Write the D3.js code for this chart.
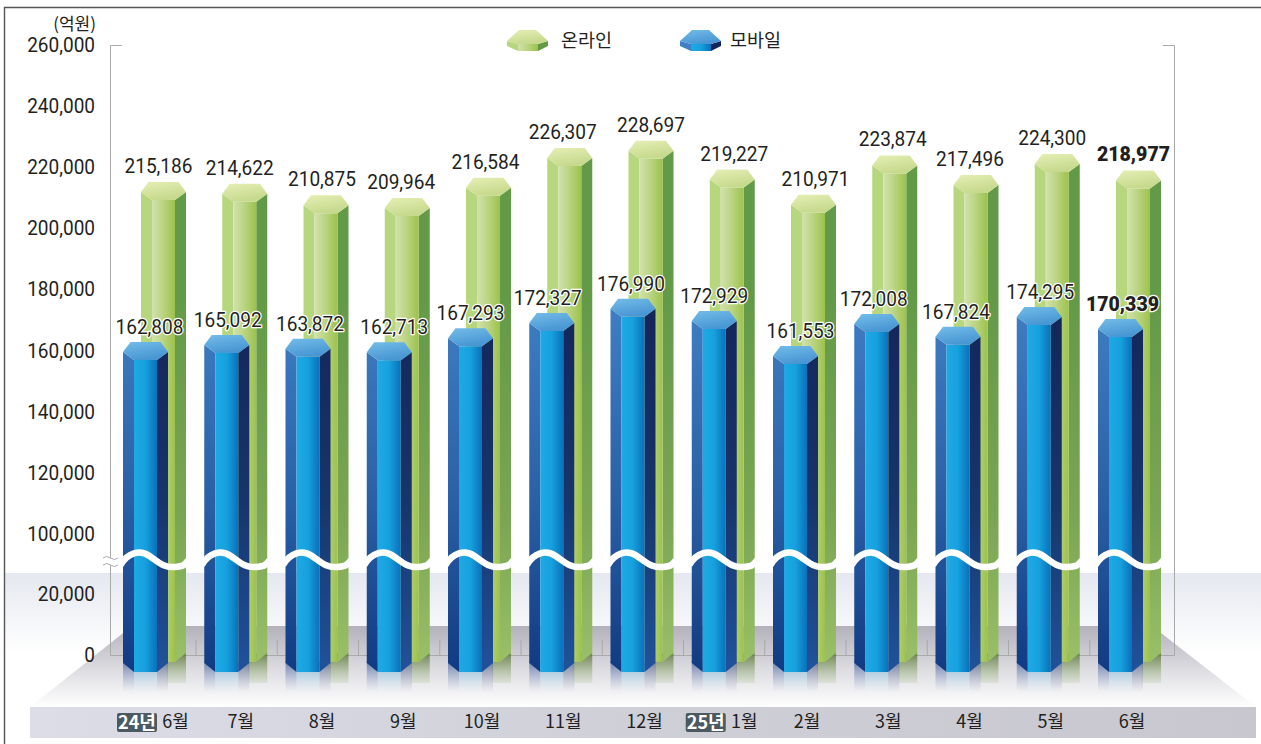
<!DOCTYPE html>
<html>
<head>
<meta charset="utf-8">
<title>온라인 모바일 거래액</title>
<style>
    html, body { margin: 0; padding: 0; background: #fff; }
    svg { display: block; }
    text { fill: #231f20; }
</style>
</head>
<body>
<svg width="1261" height="744"></svg>
<script src="https://d3js.org/d3.v7.min.js"></script>
<script>
    const months = ["6월", "7월", "8월", "9월", "10월", "11월", "12월", "1월", "2월", "3월", "4월", "5월", "6월"]
    const yearTags = ["24년", "", "", "", "", "", "", "25년", "", "", "", "", ""]
    const online = [215186, 214622, 210875, 209964, 216584, 226307, 228697, 219227, 210971, 223874, 217496, 224300, 218977]
    const mobile = [162808, 165092, 163872, 162713, 167293, 172327, 176990, 172929, 161553, 172008, 167824, 174295, 170339]
    const yTicks = [0, 20000, 100000, 120000, 140000, 160000, 180000, 200000, 220000, 240000, 260000]

    // hand placed label nudges, the source nudges labels so they don't collide
    const onlineNudge = [-5, -5, -4, -6, -3, -7, 0, 2, 2, -2, -6, -5, -5]
    const mobileNudge = [4, 1, 2, 5, 0, -4, -2, 0, 5, -3, -2, 1, 2]

    const numFont = "Roboto, sans-serif"
    const krFont = "'Noto Sans CJK KR', sans-serif"

    const svg = d3.select("svg")
    const defs = svg.append("defs")

    const gradient = (id, stops, opts = {}) => {
        const g = defs.append("linearGradient").attr("id", id)
        Object.entries(opts).forEach(([k, v]) => g.attr(k, v))
        stops.forEach(s => g.append("stop")
            .attr("offset", s[0]).attr("stop-color", s[1]).attr("stop-opacity", s[2] === undefined ? 1 : s[2]))
    }
    const vert = {x1: 0, y1: 0, x2: 0, y2: 1}
    const tall = {gradientUnits: "userSpaceOnUse", x1: 0, x2: 0, y1: 300, y2: 672}
    const refl = {gradientUnits: "userSpaceOnUse", x1: 0, x2: 0, y1: 655, y2: 692}

    gradient("bgFade", [[0, "#e5e8f0"], [1, "#ffffff"]], vert)
    gradient("floor", [[0, "#b3b1bb"], [0.55, "#dedde2"], [1, "#ffffff"]], vert)
    gradient("band", [[0, "#dcdde7"], [0.5, "#cfcfd8"], [1, "#c8c7cf"]])

    gradient("blueLeft", [[0, "#3f7fc5"], [0.55, "#2a5fa5"], [1, "#113a82"]], tall)
    gradient("blueFront", [[0, "#1fa9e4"], [0.5, "#16a0de"], [1, "#0a70b9"]])
    gradient("blueRight", [[0, "#13255a"], [0.55, "#17356c"], [1, "#20529b"]], tall)
    gradient("blueCap", [[0, "#74bde8"], [1, "#4896d4"]], {x1: 0, y1: 0, x2: 0.4, y2: 1})

    gradient("greenLeft", [[0, "#b7d77e"], [1, "#a6cf6e"]], tall)
    gradient("greenFront", [[0, "#d2e2ad"], [0.5, "#b9d37f"], [1, "#9cc24c"]])
    gradient("greenRight", [[0, "#639a48"], [0.6, "#7ba653"], [1, "#9cc169"]], tall)
    gradient("greenCap", [[0, "#e6efb6"], [1, "#c6d98c"]], {x1: 0, y1: 0, x2: 0.4, y2: 1})

    gradient("reflBlueL", [[0, "#26488f", 0.8], [1, "#8a9ccc", 0]], refl)
    gradient("reflBlueF", [[0, "#3f9ed8", 0.75], [1, "#a8d8f0", 0]], refl)
    gradient("reflBlueR", [[0, "#3a4c74", 0.85], [1, "#8c96b8", 0]], refl)
    gradient("reflGreen", [[0, "#5f7a3c", 0.8], [1, "#b8d49a", 0]], refl)

    const x = d3.scalePoint().domain(d3.range(months.length)).range([145.5, 1120.5])
    const y = d3.scaleLinear().domain([0, 20000, 100000, 260000]).range([655, 594, 534, 45])
    const greenShift = 18

    // the source numerals are a narrow DIN, squeeze Roboto to about that width
    const squeeze = (sel, k) => sel
        .attr("lengthAdjust", "spacingAndGlyphs")
        .each(function () { this.setAttribute("textLength", this.getComputedTextLength() * k) })

    // page frame and backdrop
    svg.append("rect").attr("x", 4).attr("y", 573).attr("width", 1257).attr("height", 80).attr("fill", "url(#bgFade)")
    svg.append("path").attr("d", "M4.5,744V7.5H1261").attr("fill", "none").attr("stroke", "#555").attr("stroke-width", 1.4)

    // floor and category band
    svg.append("polygon").attr("points", "132,626 1152,626 1256,707 30,707").attr("fill", "url(#floor)")
    svg.append("rect").attr("x", 30).attr("y", 707).attr("width", 1226).attr("height", 31).attr("fill", "url(#band)")

    // axis box
    const frame = svg.append("g").attr("fill", "none").attr("stroke", "#a9a9a9")
    frame.append("path").attr("d", `M122,${y(260000) + .5}H110.5V${y(0) + .5}H1174.5V${y(260000) + .5}H1163`)
    frame.selectAll("line").data(d3.range(months.length - 1)).join("line")
        .attr("x1", i => x(i) + 50.5).attr("x2", i => x(i) + 50.5)
        .attr("y1", y(0) - 15).attr("y2", y(0))

    const yAxis = svg.append("g")
        .attr("transform", "translate(110,0)")
        .call(d3.axisLeft(y).tickValues(yTicks).tickFormat(d3.format(",")).tickSize(0).tickPadding(15))
    yAxis.select(".domain").remove()
    yAxis.selectAll("text").attr("font-family", numFont).attr("font-size", 20).style("fill", "#231f20")
        .call(squeeze, 0.95)

    // axis break mark
    svg.append("path").attr("d", "M100,561.5H121").attr("stroke", "#fff").attr("stroke-width", 7)
    svg.selectAll(".tilde").data([558, 565]).join("path").attr("class", "tilde")
        .attr("d", d => `M103,${d}q3.5,-3 7.5,0t7.5,0`).attr("fill", "none").attr("stroke", "#a9a9a9")

    const pts = a => a.map(p => p.join(",")).join(" ")

    // one hexagonal column; dx is the column centre, top the pixel of its value, foot the pixel of its side bottom
    const column = (sel, dx, top, foot, name) => {
        const l = dx - 22.5, fl = dx - 11.5, fr = dx + 11.5, r = dx + 22.5
        const side = top + 10, front = top + 18
        sel.append("polygon").attr("points", pts([[l, side], [fl, front], [fl, foot + 9], [l, foot]])).attr("fill", `url(#${name}Left)`)
        sel.append("polygon").attr("points", pts([[r, side], [fr, front], [fr, foot + 9], [r, foot]])).attr("fill", `url(#${name}Right)`)
        sel.append("polygon").attr("points", pts([[fl, front], [fr, front], [fr, foot + 9], [fl, foot + 9]])).attr("fill", `url(#${name}Front)`)
        sel.append("polygon").attr("points", pts([[l, side], [dx - 15, top], [dx + 15, top], [r, side], [fr, front], [fl, front]])).attr("fill", `url(#${name}Cap)`)
    }

    // reflections on the floor
    const reflections = svg.append("g")
    months.forEach((m, i) => {
        const cx = x(i), gx = cx + greenShift
        reflections.append("rect").attr("x", gx + 4).attr("y", y(0) - 2).attr("width", 18.5).attr("height", 30).attr("fill", "url(#reflGreen)")
        reflections.append("rect").attr("x", cx - 22.5).attr("y", y(0) + 6).attr("width", 11).attr("height", 32).attr("fill", "url(#reflBlueL)")
        reflections.append("rect").attr("x", cx - 11.5).attr("y", y(0) + 6).attr("width", 23).attr("height", 32).attr("fill", "url(#reflBlueF)")
        reflections.append("rect").attr("x", cx + 11.5).attr("y", y(0) + 6).attr("width", 11).attr("height", 32).attr("fill", "url(#reflBlueR)")
    })

    const valueLabels = (sel, values, nudge, shift, lift) => sel.selectAll("text").data(values).join("text")
        .attr("x", (d, i) => x(i) + shift + nudge[i])
        .attr("y", d => y(d) - lift)
        .attr("text-anchor", "middle")
        .attr("font-family", numFont)
        .attr("font-size", (d, i) => i === values.length - 1 ? 21 : 20.5)
        .attr("font-weight", (d, i) => i === values.length - 1 ? 900 : 400)
        .text(d3.format(","))
        .call(squeeze, 0.93)

    const greens = svg.append("g")
    online.forEach((v, i) => column(greens.append("g"), x(i) + greenShift, y(v), y(0) - 2, "green"))
    valueLabels(svg.append("g"), online, onlineNudge, greenShift, 9)

    const blues = svg.append("g")
    mobile.forEach((v, i) => column(blues.append("g"), x(i), y(v), y(0) + 8, "blue"))

    // wavy white break through each pair of columns
    svg.append("g").selectAll("path").data(months).join("path")
        .attr("d", (d, i) => {
            const c = x(i)
            return `M${c - 25},565C${c - 18},553 ${c - 6},549 ${c + 4},556S${c + 19},568 ${c + 29},567S${c + 39},565 ${c + 43},560`
        })
        .attr("fill", "none").attr("stroke", "#fff").attr("stroke-width", 6.5)

    valueLabels(svg.append("g"), mobile, mobileNudge, 0, 8)
        .attr("stroke", "#fff").attr("stroke-width", 2.5).attr("stroke-linejoin", "round").attr("paint-order", "stroke")

    // category labels
    const cats = svg.append("g").attr("font-family", krFont).attr("font-size", 18)
    cats.selectAll(".month").data(months).join("text").attr("class", "month")
        .attr("x", (d, i) => x(i) + (yearTags[i] ? 30 : i < 4 ? 14 : 11.5))
        .attr("y", 728)
        .attr("text-anchor", "middle")
        .text(d => d)
    const tagged = months.map((m, i) => i).filter(i => yearTags[i])
    cats.selectAll(".tag").data(tagged).join("rect").attr("class", "tag")
        .attr("x", i => x(i) - 28.5).attr("y", 713).attr("width", 40).attr("height", 19).attr("rx", 2).attr("fill", "#4a5a60")
    cats.selectAll(".tagText").data(tagged).join("text").attr("class", "tagText")
        .attr("x", i => x(i) - 8.5).attr("y", 728.5).attr("text-anchor", "middle")
        .attr("font-weight", 700).style("fill", "#fff")
        .text(i => yearTags[i])

    // legend
    const legendItem = (lx, name, label, tx) => {
        const g = svg.append("g")
        g.append("polygon").attr("points", pts([[lx, 41], [lx + 11, 44], [lx + 11, 51], [lx, 46]])).attr("fill", `url(#${name}Left)`)
        g.append("polygon").attr("points", pts([[lx + 41, 41], [lx + 31, 44], [lx + 31, 51], [lx + 41, 46]])).attr("fill", `url(#${name}Right)`)
        g.append("polygon").attr("points", pts([[lx + 11, 44], [lx + 31, 44], [lx + 31, 51], [lx + 11, 51]])).attr("fill", `url(#${name}Front)`)
        g.append("polygon").attr("points", pts([[lx, 41], [lx + 12, 30], [lx + 29, 30], [lx + 41, 41], [lx + 31, 44], [lx + 11, 44]])).attr("fill", `url(#${name}Cap)`)
        g.append("text").attr("x", tx).attr("y", 47).attr("font-family", krFont).attr("font-size", 18.5).text(label)
    }
    legendItem(507, "green", "온라인", 561)
    legendItem(680, "blue", "모바일", 730)

    svg.append("text").attr("x", 96).attr("y", 30).attr("text-anchor", "end")
        .attr("font-family", krFont).attr("font-size", 17).text("(억원)")
</script>
</body>
</html>
